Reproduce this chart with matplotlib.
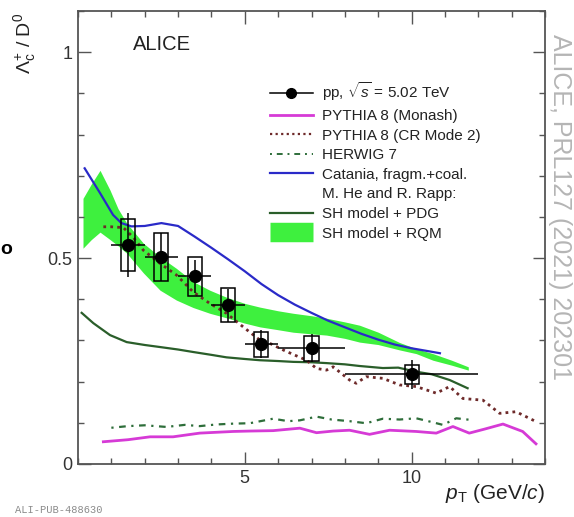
import matplotlib
matplotlib.use("Agg")
import matplotlib.pyplot as plt
from matplotlib.lines import Line2D
from matplotlib.ticker import MultipleLocator, FixedLocator
import numpy as np

plt.rcParams['font.family'] = ['Liberation Sans', 'DejaVu Sans']
plt.rcParams['mathtext.fontset'] = 'custom'
plt.rcParams['mathtext.rm'] = 'Liberation Sans'
plt.rcParams['mathtext.it'] = 'Liberation Sans:italic'
plt.rcParams['mathtext.bf'] = 'Liberation Sans:bold'

# ---------------- data ----------------
data_x = [1.5, 2.5, 3.5, 4.5, 5.5, 7.0, 10.0]
data_xerr = [0.5, 0.5, 0.5, 0.5, 0.5, 1.0, 2.0]
data_y = [0.532, 0.503, 0.456, 0.386, 0.291, 0.281, 0.218]
data_stat = [0.077, 0.058, 0.040, 0.040, 0.034, 0.034, 0.035]
data_sys = [0.063, 0.058, 0.047, 0.041, 0.030, 0.031, 0.023]

catania_x = [0.2, 0.66, 1.05, 1.3, 1.6, 2.0, 2.5, 3.0, 3.5, 4.0, 4.5, 5.0, 5.5, 6.0,
             6.5, 7.0, 7.5, 8.0, 8.5, 9.0, 9.5, 10.0, 10.5, 10.85]
catania_y = [0.718, 0.658, 0.605, 0.585, 0.577, 0.578, 0.585, 0.578, 0.552, 0.525, 0.497,
             0.468, 0.437, 0.41, 0.387, 0.367, 0.348, 0.332, 0.316, 0.302, 0.29, 0.281,
             0.274, 0.269]

rqm_x = [0.15, 0.4, 0.66, 0.96, 1.2, 1.46, 1.96, 2.46, 2.95, 3.45, 3.95, 4.45, 5.0, 5.45,
         6.0, 6.45, 7.0, 7.45, 8.0, 8.44, 9.0, 9.64, 10.14, 10.64, 11.2, 11.7]
rqm_hi = [0.645, 0.68, 0.713, 0.665, 0.62, 0.585, 0.536, 0.503, 0.475, 0.443, 0.422, 0.405,
          0.39, 0.381, 0.372, 0.366, 0.36, 0.354, 0.345, 0.337, 0.32, 0.295, 0.28, 0.268,
          0.252, 0.236]
rqm_lo = [0.524, 0.545, 0.563, 0.545, 0.53, 0.512, 0.464, 0.422, 0.398, 0.38, 0.366, 0.355,
          0.342, 0.333, 0.326, 0.32, 0.316, 0.313, 0.305, 0.296, 0.29, 0.277, 0.268, 0.252,
          0.24, 0.228]

pdg_x = [0.11, 0.46, 0.96, 1.46, 2.0, 2.46, 3.0, 3.45, 4.0, 4.45, 5.0, 5.45, 6.0, 6.45,
         7.0, 7.45, 8.0, 8.44, 9.14, 9.6, 10.14, 10.6, 11.14, 11.68]
pdg_y = [0.367, 0.342, 0.313, 0.296, 0.289, 0.284, 0.278, 0.272, 0.265, 0.259, 0.255,
         0.252, 0.25, 0.248, 0.247, 0.245, 0.242, 0.238, 0.233, 0.234, 0.224, 0.218,
         0.204, 0.184]

cr2_x = [0.76, 1.0, 1.36, 1.66, 1.96, 2.46, 2.95, 3.45, 3.95, 4.45, 4.95, 5.45, 5.75, 6.2,
         6.85, 7.15, 7.45, 7.65, 8.14, 8.34, 8.64, 9.14, 9.64, 10.14, 10.74, 11.14, 11.54,
         12.14, 12.64, 13.13, 13.73]
cr2_y = [0.576, 0.576, 0.574, 0.55, 0.519, 0.487, 0.459, 0.418, 0.39, 0.366, 0.333, 0.301,
         0.293, 0.275, 0.252, 0.232, 0.228, 0.236, 0.204, 0.196, 0.212, 0.208, 0.192, 0.188,
         0.172, 0.188, 0.159, 0.155, 0.123, 0.127, 0.103]

herwig_x = [1.0, 1.5, 2.0, 2.65, 3.2, 3.65, 4.15, 4.65, 5.15, 5.85, 6.3, 6.65, 7.15, 7.6,
            8.14, 8.64, 9.14, 9.64, 10.14, 10.6, 10.94, 11.34, 11.78]
herwig_y = [0.088, 0.092, 0.094, 0.09, 0.095, 0.092, 0.096, 0.098, 0.099, 0.11, 0.104,
            0.106, 0.115, 0.108, 0.104, 0.099, 0.11, 0.108, 0.111, 0.102, 0.095, 0.111, 0.107]

monash_x = [0.76, 1.5, 2.16, 2.85, 3.65, 4.65, 5.15, 5.85, 6.65, 7.15, 7.65, 8.14, 8.74,
            9.34, 10.14, 10.74, 11.24, 11.73, 12.2, 12.74, 13.33, 13.73]
monash_y = [0.054, 0.059, 0.066, 0.066, 0.075, 0.079, 0.08, 0.081, 0.087, 0.076, 0.08,
            0.082, 0.072, 0.082, 0.079, 0.075, 0.091, 0.075, 0.085, 0.097, 0.079, 0.049]

labels = ["pp, $\\sqrt{s}$ = 5.02 TeV", "PYTHIA 8 (Monash)", "PYTHIA 8 (CR Mode 2)",
          "HERWIG 7", "Catania, fragm.+coal.", "M. He and R. Rapp:",
          "SH model + PDG", "SH model + RQM"]

# ---------------- styles ----------------
c_mag = '#d63ad6'
c_cr2 = '#6e2a2a'
c_herw = '#2e6e3a'
c_blue = '#2a2ac8'
c_pdg = '#2a5e2a'
c_band = '#3ef03e'
c_axis = '#555555'

fig = plt.figure(figsize=(5.74, 5.17), dpi=100)
ax = fig.add_axes([78/574, 1-464/517, (545-78)/574, (464-11)/517])

ax.fill_between(rqm_x, rqm_lo, rqm_hi, color=c_band, lw=0, zorder=1)
ax.plot(pdg_x, pdg_y, color=c_pdg, lw=1.6, zorder=2)
ax.plot(catania_x, catania_y, color=c_blue, lw=1.6, zorder=2)
ax.plot(monash_x, monash_y, color=c_mag, lw=2.0, zorder=2)
ax.plot(herwig_x, herwig_y, color=c_herw, lw=1.6, ls=(0, (1, 2.5, 3, 2.5)), zorder=2)
ax.plot(cr2_x, cr2_y, color=c_cr2, lw=2.0, ls=(0, (1, 1.5)), zorder=2)

dx = np.array(data_x); dy = np.array(data_y); ds = np.array(data_sys)
ax.bar(dx, 2*ds, bottom=dy-ds, width=0.42, fill=False, edgecolor='k', lw=1.1, zorder=3)
ax.errorbar(data_x, data_y, xerr=data_xerr, yerr=data_stat, fmt='o', color='k',
            ms=8.5, elinewidth=1.1, capsize=0, zorder=4)

ax.set_xlim(0, 14)
ax.set_ylim(0, 1.1)
ax.xaxis.set_major_locator(FixedLocator([5, 10]))
ax.xaxis.set_minor_locator(MultipleLocator(1))
ax.yaxis.set_major_locator(FixedLocator([0, 0.5, 1]))
ax.yaxis.set_minor_locator(MultipleLocator(0.1))
ax.set_yticklabels(['0', '0.5', '1'])
ax.tick_params(which='both', direction='in', top=True, right=True, color=c_axis,
               width=1.0, labelsize=13, labelcolor='#333333')
ax.tick_params(which='major', length=9, pad=4)
ax.tick_params(which='minor', length=4.5)
for s in ax.spines.values():
    s.set_color(c_axis)
    s.set_linewidth(1.3)

ax.set_xlabel("$p_{\\rm T}$ (GeV/$c$)", fontsize=15, loc='right', color='#222222')
ax.xaxis.set_label_coords(1.0, -0.04)
ax.set_ylabel("$\\Lambda_{\\rm c}^{+}$ / D$^{0}$", fontsize=14, loc='top', color='#222222')
ax.yaxis.set_label_coords(-0.085, 0.995)

ax.text(0.118, 0.925, "ALICE", transform=ax.transAxes, fontsize=14.5,
        ha='left', va='center', color='#222222')

handles = [
    Line2D([], [], color='k', lw=1.1, marker='o', ms=7),
    Line2D([], [], color=c_mag, lw=2.0),
    Line2D([], [], color=c_cr2, lw=1.6, ls=(0, (1, 1.5))),
    Line2D([], [], color=c_herw, lw=1.4, ls=(0, (1, 2.5, 3, 2.5))),
    Line2D([], [], color=c_blue, lw=1.6),
    Line2D([], [], color='none', lw=0),
    Line2D([], [], color=c_pdg, lw=1.6),
    Line2D([], [], color=c_band, lw=14, solid_capstyle='butt'),
]
leg = ax.legend(handles, labels, loc='upper left', bbox_to_anchor=(0.411, 0.847),
                frameon=False, fontsize=11, handlelength=2.8, handletextpad=0.6,
                labelspacing=0.37, borderpad=0, borderaxespad=0)
for t in leg.get_texts():
    t.set_color('#222222')

fig.text(560/574, 1-207/517, "ALICE, PRL127 (2021) 202301", rotation=-90,
         ha='center', va='center', fontsize=18, color='#b5b5b5')
fig.text(15/574, 1-510/517, "ALI-PUB-488630", family='Liberation Mono', fontsize=7.5,
         color='#8a8a8a', ha='left', va='center')
fig.text(0.5/574, 1-249/517, "o", fontsize=14, weight='bold', ha='left', va='center')

fig.savefig('out.png', dpi=100)
